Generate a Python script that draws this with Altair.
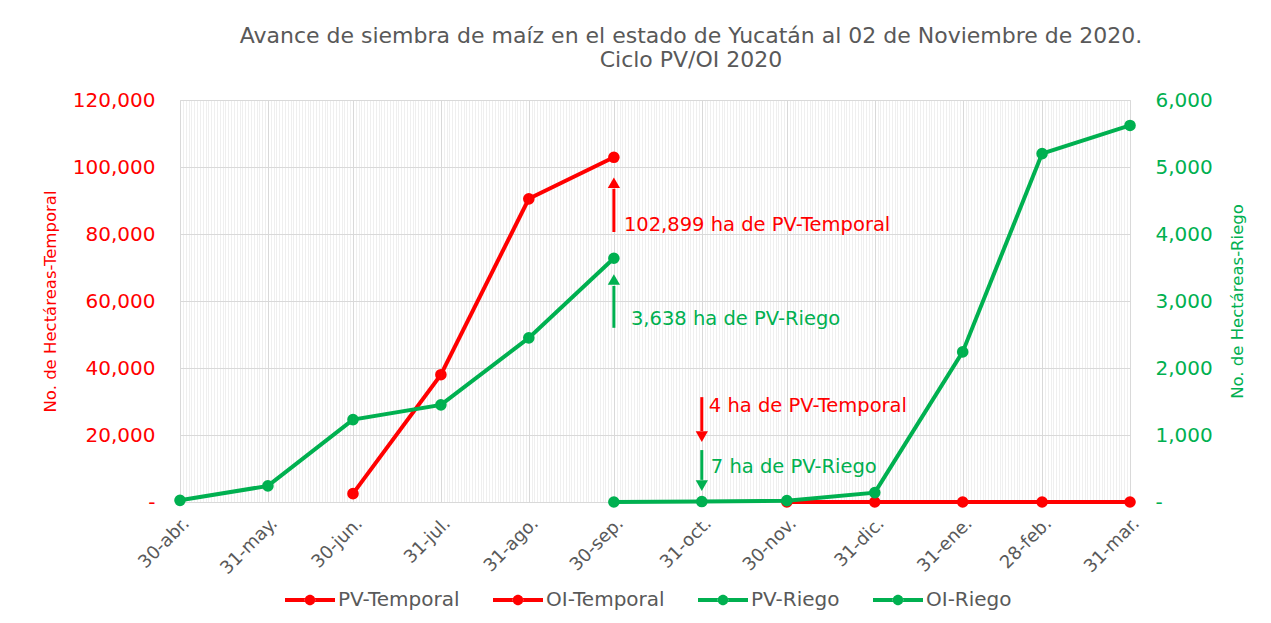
import altair as alt
import pandas as pd

# ---- data ----
dates = ["2020-04-30", "2020-05-31", "2020-06-30", "2020-07-31", "2020-08-31", "2020-09-30",
         "2020-10-31", "2020-11-30", "2020-12-31", "2021-01-31", "2021-02-28", "2021-03-31"]
date_labels = ["30-abr.", "31-may.", "30-jun.", "31-jul.", "31-ago.", "30-sep.",
               "31-oct.", "30-nov.", "31-dic.", "31-ene.", "28-feb.", "31-mar."]

series_names = ["PV-Temporal", "OI-Temporal", "PV-Riego", "OI-Riego"]
series_colors = ["#FF0000", "#FF0000", "#00B050", "#00B050"]

pv_temporal_dates = dates[2:6]
pv_temporal = [2500, 38000, 90500, 102899]
oi_temporal_dates = dates[7:12]
oi_temporal = [4, 4, 4, 4, 4]

pv_riego_dates = dates[0:6]
pv_riego = [25, 240, 1230, 1450, 2450, 3638]
oi_riego_dates = dates[5:12]
oi_riego = [0, 7, 20, 140, 2240, 5200, 5620]

# annotations (values in left-axis units)
ann_dates = ["2020-09-30", "2020-09-30", "2020-10-31", "2020-10-31"]
ann_tail = [80600, 52000, 31300, 15500]
ann_neck = [93500, 64500, 21200, 6600]
ann_head = [95300, 66400, 19500, 4900]
ann_shape = ["triangle-up", "triangle-up", "triangle-down", "triangle-down"]
ann_text = ["102,899 ha de PV-Temporal", "3,638 ha de PV-Riego", "4 ha de PV-Temporal", "7 ha de PV-Riego"]
ann_text_y = [82700, 54600, 28700, 10400]
ann_color = ["#FF0000", "#00B050", "#FF0000", "#00B050"]

FONT = "DejaVu Sans"
RED = "#FF0000"
GREEN = "#00B050"
GRAY = "#595959"


def ts(d):
    return d + "T00:00:00"


def dt(d):
    y, m, dd = d.split("-")
    return alt.DateTime(year=int(y), month=int(m), date=int(dd))


red_df = pd.DataFrame({
    "date": [ts(d) for d in pv_temporal_dates + oi_temporal_dates],
    "value": pv_temporal + oi_temporal,
    "series": ["PV-Temporal"] * len(pv_temporal) + ["OI-Temporal"] * len(oi_temporal),
})
green_df = pd.DataFrame({
    "date": [ts(d) for d in pv_riego_dates + oi_riego_dates],
    "value": pv_riego + oi_riego,
    "series": ["PV-Riego"] * len(pv_riego) + ["OI-Riego"] * len(oi_riego),
})
ann_df = pd.DataFrame({
    "date": [ts(d) for d in ann_dates],
    "tail": ann_tail, "neck": ann_neck, "head": ann_head,
    "shape": ann_shape, "text": ann_text, "text_y": ann_text_y, "color": ann_color,
})

# ---- axes ----
key = "timeFormat(datum.value, '%Y-%m-%d')"
dates_js = "[" + ",".join(f"'{d}'" for d in dates) + "]"
labels_js = "[" + ",".join(f"'{l}'" for l in date_labels) + "]"

x_axis = alt.Axis(
    title=None,
    tickCount={"interval": "day", "step": 1},
    labelExpr=f"{labels_js}[indexof({dates_js}, {key})] || ''",
    labelAngle=-45,
    labelOverlap=False,
    labelFont=FONT, labelFontSize=18, labelColor=GRAY, labelPadding=12,
    ticks=False,
    grid=True,
    gridColor={"condition": {"test": f"indexof({dates_js}, {key}) >= 0", "value": "#d9d9d9"},
               "value": "#efefef"},
    domainColor="#d9d9d9",
)
x_enc = alt.X("date:T", scale=alt.Scale(domain=[dt(dates[0]), dt(dates[-1])]), axis=x_axis)

left_axis = alt.Axis(
    title="No. de Hectáreas-Temporal", values=[0, 20000, 40000, 60000, 80000, 100000, 120000],
    labelExpr="datum.value == 0 ? '-\u00a0\u00a0' : format(datum.value, ',')",
    labelFont=FONT, labelFontSize=20, labelColor=RED, labelPadding=25,
    titleFont=FONT, titleFontSize=16.5, titleFontWeight="normal", titleColor=RED, titlePadding=14,
    grid=True, gridColor="#d9d9d9", domain=False, ticks=False,
)
left_scale = alt.Scale(domain=[0, 120000], nice=False)

right_axis = alt.Axis(
    title="No. de Hectáreas-Riego", orient="right", values=[0, 1000, 2000, 3000, 4000, 5000, 6000],
    labelExpr="datum.value == 0 ? '-' : format(datum.value, ',')",
    labelFont=FONT, labelFontSize=20, labelColor=GREEN, labelPadding=25,
    titleFont=FONT, titleFontSize=16.5, titleFontWeight="normal", titleColor=GREEN, titlePadding=17,
    titleAngle=270, titleBaseline="top",
    grid=False, domain=False, ticks=False,
)
right_scale = alt.Scale(domain=[0, 6000], nice=False)

legend_path = ("M-1,-0.08L-0.2,-0.08L-0.2,0.08L-1,0.08Z "
               "M0.2,-0.08L1,-0.08L1,0.08L0.2,0.08Z "
               "M0.21,0A0.21,0.21 0 1,0 -0.21,0A0.21,0.21 0 1,0 0.21,0Z")

color_enc = alt.Color(
    "series:N",
    scale=alt.Scale(domain=series_names, range=series_colors),
    legend=alt.Legend(
        title=None, orient="none", direction="horizontal", legendX=105, legendY=475,
        symbolType=legend_path, symbolSize=2500, symbolStrokeWidth=0, symbolOpacity=1,
        labelFont=FONT, labelFontSize=20, labelColor=GRAY, columnPadding=33, labelOffset=3,
    ),
)


def yL(field):
    return alt.Y(f"{field}:Q", scale=left_scale, axis=left_axis)


# ---- red (temporal) group ----
red_line = alt.Chart(red_df).mark_line(strokeWidth=4).encode(x=x_enc, y=yL("value"), color=color_enc)
red_pts = alt.Chart(red_df).mark_point(filled=True, size=135, opacity=1).encode(
    x=x_enc, y=yL("value"), color=color_enc)

ann_rule = alt.Chart(ann_df).mark_rule(strokeWidth=3).encode(
    x=x_enc, y=yL("tail"), y2="neck:Q", color=alt.Color("color:N", scale=None))
ann_head_m = alt.Chart(ann_df).mark_point(filled=True, size=150, opacity=1).encode(
    x=x_enc, y=yL("head"), shape=alt.Shape("shape:N", scale=None), color=alt.Color("color:N", scale=None))

text_dx = [10, 17, 7, 9]
ann_texts = []
for i in range(len(ann_text)):
    ann_texts.append(
        alt.Chart(ann_df.iloc[[i]]).mark_text(align="left", baseline="middle", dx=text_dx[i],
                                              font=FONT, fontSize=19.5).encode(
            x=x_enc, y=yL("text_y"), text="text:N", color=alt.Color("color:N", scale=None))
    )

red_group = alt.layer(red_line, red_pts, ann_rule, ann_head_m, *ann_texts)

# ---- green (riego) group ----
yR = alt.Y("value:Q", scale=right_scale, axis=right_axis)
green_line = alt.Chart(green_df).mark_line(strokeWidth=4).encode(x=x_enc, y=yR, color=color_enc)
green_pts = alt.Chart(green_df).mark_point(filled=True, size=135, opacity=1).encode(
    x=x_enc, y=yR, color=color_enc)
green_group = alt.layer(green_line, green_pts)

chart = alt.layer(red_group, green_group).resolve_scale(y="independent").properties(
    width=950, height=402,
    autosize=alt.AutoSizeParams(type="none"),
    padding={"left": 172, "top": 92, "right": 120, "bottom": 110},
    title=alt.TitleParams(
        text=["Avance de siembra de maíz en el estado de Yucatán al 02 de Noviembre de 2020.",
              "Ciclo PV/OI 2020"],
        font=FONT, fontSize=22, fontWeight="normal", color=GRAY,
        anchor="middle", dx=36, offset=18, lineHeight=24,
    ),
).configure_view(stroke=None).configure(background="white")

chart.save("out.html", embed_options={"renderer": "svg", "actions": False})
